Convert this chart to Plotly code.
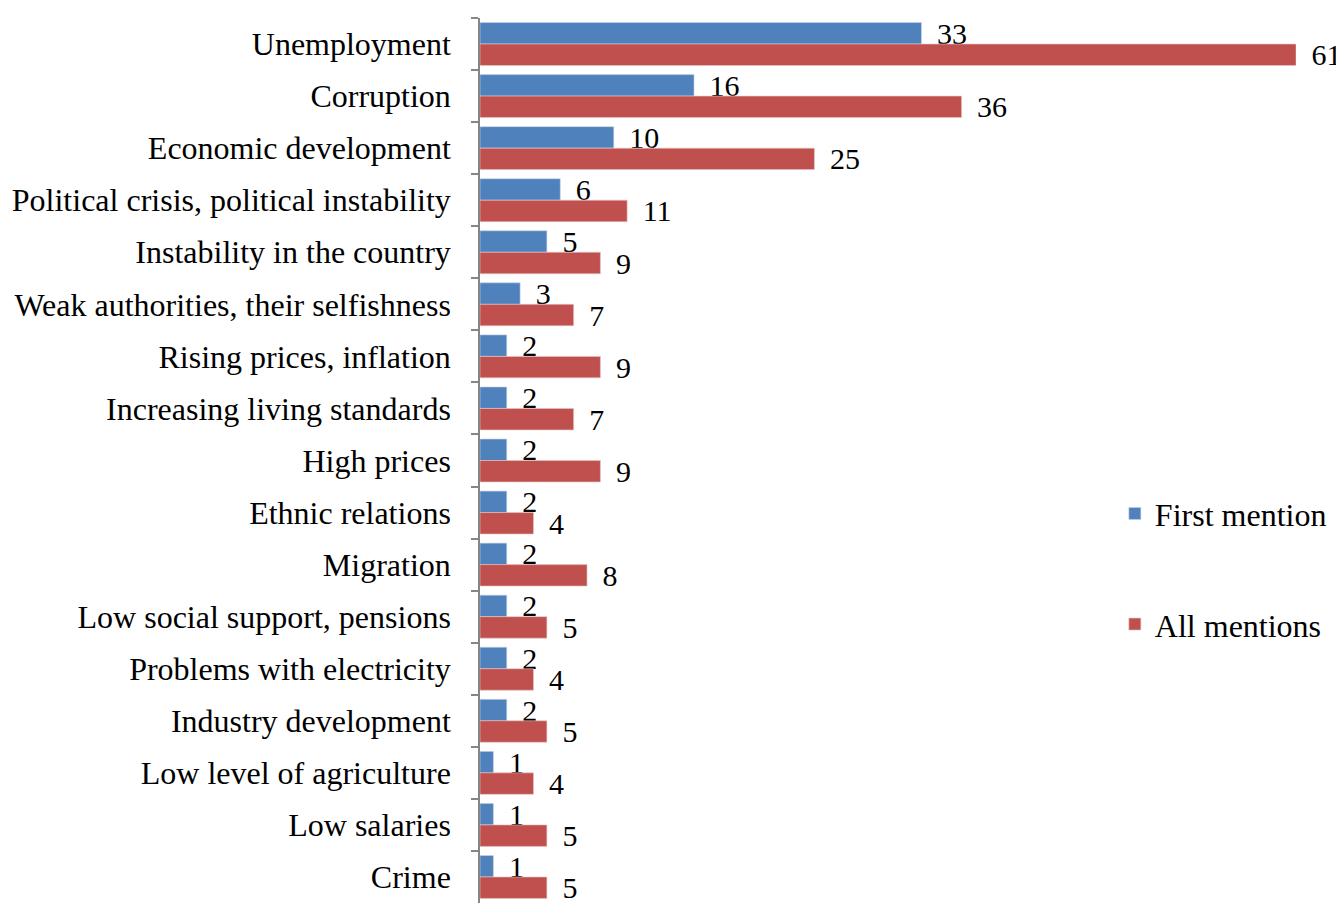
import plotly.graph_objects as go

categories = [
    "Unemployment", "Corruption", "Economic development",
    "Political crisis, political instability", "Instability in the country",
    "Weak authorities, their selfishness", "Rising prices, inflation",
    "Increasing living standards", "High prices", "Ethnic relations",
    "Migration", "Low social support, pensions", "Problems with electricity",
    "Industry development", "Low level of agriculture", "Low salaries", "Crime",
]
first_mention = [33, 16, 10, 6, 5, 3, 2, 2, 2, 2, 2, 2, 2, 2, 1, 1, 1]
all_mentions = [61, 36, 25, 11, 9, 7, 9, 7, 9, 4, 8, 5, 4, 5, 4, 5, 5]

FONT = "Liberation Serif, Times New Roman, serif"
FS = 32
VS = 30
pad = "\u2004\u200a"

fig = go.Figure()
fig.add_trace(go.Bar(
    y=categories, x=first_mention, orientation="h", name="First mention",
    marker=dict(color="#4F81BD", line=dict(color="#c8d3e3", width=0.6)),
    text=[pad + str(v) for v in first_mention], textposition="outside",
    constraintext="none",
    textfont=dict(family=FONT, size=VS, color="black"), cliponaxis=False,
    legendgroup="a",
))
fig.add_trace(go.Bar(
    y=categories, x=all_mentions, orientation="h", name="All mentions",
    marker=dict(color="#C0504D", line=dict(color="#e3c8c7", width=0.6)),
    text=[pad + str(v) for v in all_mentions], textposition="outside",
    constraintext="none",
    textfont=dict(family=FONT, size=VS, color="black"), cliponaxis=False,
    legendgroup="b",
))

fig.update_layout(
    width=1336, height=895,
    margin=dict(l=472, r=48, t=10, b=0),
    barmode="group", bargap=0.175, bargroupgap=0,
    plot_bgcolor="white", paper_bgcolor="white",
    font=dict(family=FONT, size=FS, color="black"),
    showlegend=True,
    legend=dict(x=0.778, y=0.471, xanchor="left", yanchor="top",
                font=dict(family=FONT, size=FS, color="black"),
                tracegroupgap=66, traceorder="grouped", bgcolor="rgba(0,0,0,0)"),
)
fig.update_xaxes(range=[0, 61], visible=False, showgrid=False, zeroline=False)
fig.update_yaxes(
    autorange="reversed", type="category", showgrid=False,
    showline=True, linecolor="#868686", linewidth=1.5,
    ticks="outside", tickson="boundaries", ticklen=7, tickcolor="#868686",
    tickwidth=1.5, ticklabelstandoff=21, automargin=False,
    tickfont=dict(family=FONT, size=FS, color="black"),
)

fig.write_html("out.html")
